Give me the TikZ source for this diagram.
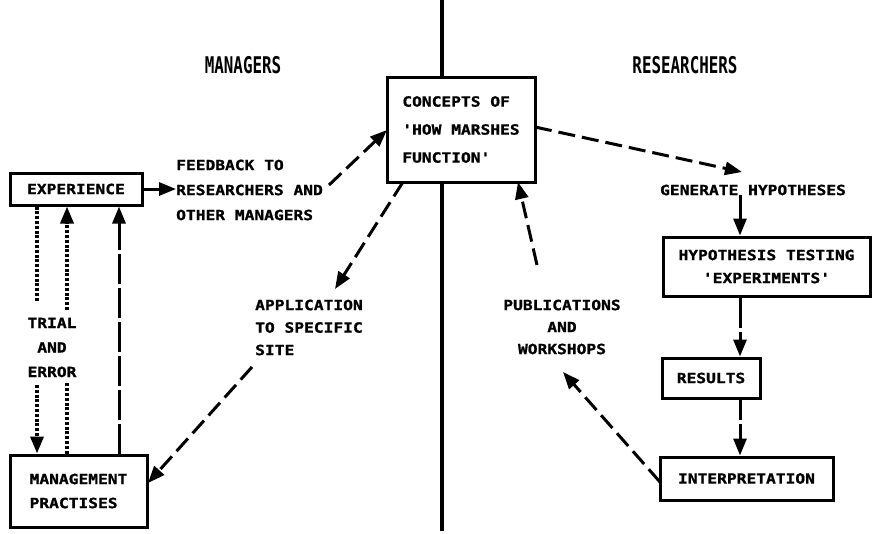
\documentclass[tikz,border=0pt]{standalone}
\usepackage{fontspec}
\usetikzlibrary{arrows.meta}
\newfontfamily\dfont[FakeStretch=1.16,FakeBold=1.2]{DejaVu Sans Mono}
\newfontfamily\hfont[FakeStretch=0.69]{DejaVu Sans Mono}
\newcommand\bodyf{\dfont\bfseries\fontsize{14}{24}\selectfont}
\newcommand\headf{\hfont\bfseries\fontsize{23}{26}\selectfont}
\begin{document}
\begin{tikzpicture}[x=1pt,y=-1pt,
  box/.style={draw, line width=3pt, inner sep=0pt, font=\bodyf, align=center},
  lbl/.style={inner sep=0pt, font=\bodyf},
  head/.style={inner sep=0pt, font=\headf},
  arr/.style={line width=3pt, -{Triangle[length=17pt,width=13pt]}},
  dsh/.style={dash pattern=on 17pt off 7pt},
  ldsh/.style={dash pattern=on 30pt off 4pt},
  dotl/.style={dash pattern=on 3pt off 1.8pt, line width=3.4pt}]
\useasboundingbox (0,0) rectangle (874,533);
% headings
\node[head] (mgrs) at (243,65) {MANAGERS};
\node[head] (rsrs) at (685,65) {RESEARCHERS};
% boxes
\node[box, minimum width=132pt, minimum height=32pt] (exp) at (76,189) {EXPERIENCE};
\node[box, minimum width=137pt, minimum height=72pt, align=left] (mgmt) at (78.5,491) {MANAGEMENT\\PRACTISES};
\node[box, minimum width=148pt, minimum height=105pt, align=left,
      font=\dfont\bfseries\fontsize{14}{28}\selectfont] (concept) at (461,129.5) {CONCEPTS OF\\'HOW MARSHES\\FUNCTION'};
\node[box, minimum width=207pt, minimum height=59pt,
      font=\dfont\bfseries\fontsize{14}{23}\selectfont] (hyp) at (766.5,266.5) {HYPOTHESIS TESTING\\'EXPERIMENTS'};
\node[box, minimum width=98pt, minimum height=40pt] (res) at (711,378) {RESULTS};
\node[box, minimum width=173pt, minimum height=43pt] (interp) at (746.5,478.5) {INTERPRETATION};
% labels
\node[lbl, anchor=west, align=left, font=\dfont\bfseries\fontsize{14}{25}\selectfont] (fb) at (176,190) {FEEDBACK TO\\RESEARCHERS AND\\OTHER MANAGERS};
\node[lbl, anchor=west, align=left, font=\dfont\bfseries\fontsize{14}{22.5}\selectfont] (app) at (255,327.5) {APPLICATION\\TO SPECIFIC\\SITE};
\node[lbl, align=center, font=\dfont\bfseries\fontsize{14}{22}\selectfont] (pub) at (562,327) {PUBLICATIONS\\AND\\WORKSHOPS};
\node[lbl] (gen) at (753,190) {GENERATE HYPOTHESES};
\node[lbl, align=center, font=\dfont\bfseries\fontsize{14}{24.5}\selectfont] (trial) at (52,347.5) {TRIAL\\AND\\ERROR};
% divider
\coordinate (vtop) at (442,0);
\coordinate (vbot) at (442,531);
\draw[line width=3.2pt] (vtop) -- (vtop |- concept.north);
\draw[line width=3.2pt] (vtop |- concept.south) -- (vbot);
% free ends
\coordinate (fbout) at (329,185);
\coordinate (cin) at (387,130);
\coordinate (cout1) at (403,182);
\coordinate (apin) at (335,289);
\coordinate (apout) at (252,367);
\coordinate (min) at (148,483);
\coordinate (cout2) at (535,127);
\coordinate (ghin) at (742,172);
\coordinate (pubin) at (563,372);
\coordinate (pubout) at (537,265);
\coordinate (cin2) at (518,182);
\coordinate (iout) at (660,482);
\coordinate (d1a) at (37,302);
\coordinate (d1b) at (37,385);
\coordinate (d2a) at (67,310);
\coordinate (d2b) at (67,383);
\coordinate (d3) at (119,330);
\coordinate (vx) at (740,0);
% connectors left
\draw[arr] (exp.east) -- (exp.east -| fb.west);
\draw[arr, dsh] (fbout) -- (cin);
\draw[arr, dsh] (cout1) -- (apin);
\draw[arr, dsh] (apout) -- (min);
\draw[dotl] (exp.south -| d1a) -- (d1a);
\draw[arr, dotl] (d1b) -- (d1b |- mgmt.north);
\draw[dotl] (mgmt.north -| d2b) -- (d2b);
\draw[arr, dotl] (d2a) -- (d2a |- exp.south);
\draw[arr, ldsh] (mgmt.north -| d3) -- (exp.south -| d3);
% connectors right
\draw[arr, dsh] (cout2) -- (ghin);
\draw[arr] (gen.south -| vx) -- (hyp.north -| vx);
\draw[arr, ldsh] (hyp.south -| vx) -- (res.north -| vx);
\draw[arr, dash pattern=on 20pt off 4pt] (res.south -| vx) -- (interp.north -| vx);
\draw[arr, dsh] (iout) -- (pubin);
\draw[arr, dsh] (pubout) -- (cin2);
\end{tikzpicture}
\end{document}
